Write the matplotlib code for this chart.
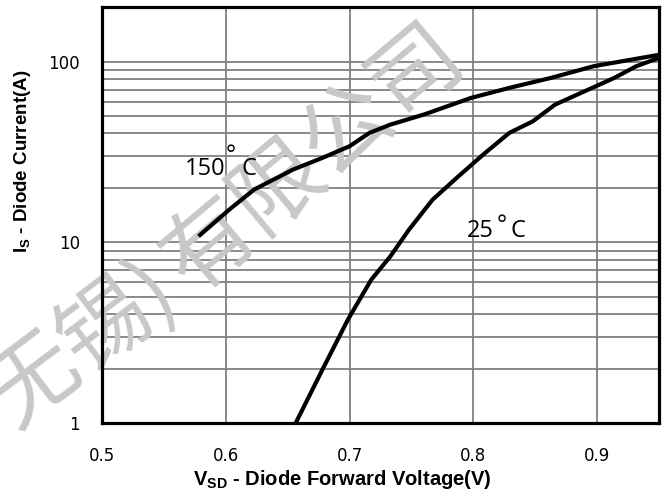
import matplotlib
matplotlib.use("Agg")
import matplotlib.pyplot as plt
from matplotlib.ticker import FixedLocator, NullFormatter, FixedFormatter

plt.rcParams['mathtext.fontset'] = 'custom'
plt.rcParams['mathtext.bf'] = 'Liberation Sans:bold'
plt.rcParams['mathtext.rm'] = 'Liberation Sans'

# Source-drain diode forward characteristics
v_150 = [0.578, 0.603, 0.623, 0.654, 0.678, 0.700, 0.716, 0.733, 0.760,
         0.798, 0.829, 0.863, 0.897, 0.950]
i_150 = [10.8, 15.2, 19.6, 25.2, 29.3, 34.0, 40.3, 44.8, 50.9,
         62.9, 71.5, 81.3, 94.2, 109.0]

v_25 = [0.6565, 0.678, 0.6986, 0.7175, 0.733, 0.748, 0.767, 0.788, 0.808,
        0.829, 0.848, 0.866, 0.884, 0.914, 0.9315, 0.950]
i_25 = [1.0, 1.97, 3.73, 6.21, 8.37, 11.75, 17.2, 23.2, 30.6,
        40.3, 46.7, 57.8, 65.7, 81.3, 94.2, 104.8]

x_ticks = [0.5, 0.6, 0.7, 0.8, 0.9]
x_tick_labels = ["0.5", "0.6", "0.7", "0.8", "0.9"]
y_ticks = [1, 10, 100]
y_tick_labels = ["1", "10", "100"]

fig = plt.figure(figsize=(6.64, 5.01), dpi=100)
ax = fig.add_axes([0.1536, 0.1557, 0.839, 0.830])

ax.set_yscale('log')
ax.set_xlim(0.5, 0.95)
ax.set_ylim(1, 200)

ax.xaxis.set_major_locator(FixedLocator(x_ticks))
ax.xaxis.set_major_formatter(FixedFormatter(x_tick_labels))
ax.yaxis.set_major_locator(FixedLocator(y_ticks))
ax.yaxis.set_major_formatter(FixedFormatter(y_tick_labels))
minor = [m * d for d in (1, 10) for m in range(2, 10)]
ax.yaxis.set_minor_locator(FixedLocator(minor))
ax.yaxis.set_minor_formatter(NullFormatter())

ax.grid(True, which='major', axis='both', color='#808080', lw=1.3)
ax.grid(True, which='minor', axis='y', color='#808080', lw=1.3)
ax.set_axisbelow(True)
ax.tick_params(which='both', length=0, labelsize=12)
ax.tick_params(axis='x', pad=17)
ax.tick_params(axis='y', pad=16)
for s in ax.spines.values():
    s.set_linewidth(2.3)
    s.set_color('black')
    s.set_zorder(4)

# Watermark, drawn above the grid but beneath the curves
wm_kw = dict(fontsize=65, color='#c8c8c8', va='center',
             rotation_mode='anchor', transform=fig.transFigure,
             clip_on=False, zorder=1.5,
             family=['Noto Sans CJK SC', 'DejaVu Sans'])
ax.text(0.474, 0.681, "有限公司", rotation=40, ha='center', **wm_kw)
ax.text(0.252, 0.437, "无锡)", rotation=37, ha='right', **wm_kw)

ax.plot(v_150, i_150, color='black', lw=3.0, zorder=3, solid_capstyle='butt')
ax.plot(v_25, i_25, color='black', lw=3.0, zorder=3, solid_capstyle='butt')

lab_font = ['Liberation Sans Narrow', 'Open Sans', 'DejaVu Sans']
lab_size = 17

ax.text(0.567, 23.7, "150", fontsize=lab_size, family=lab_font,
        ha='left', va='baseline', zorder=5)
ax.text(0.6000, 27.9, "°", fontsize=lab_size, family=lab_font,
        ha='left', va='baseline', zorder=5)
ax.text(0.6124, 23.7, "C", fontsize=lab_size, family=lab_font,
        ha='left', va='baseline', zorder=5)

ax.text(0.795, 10.73, "25", fontsize=lab_size, family=lab_font,
        ha='left', va='baseline', zorder=5)
ax.text(0.8185, 11.43, "°", fontsize=lab_size, family=lab_font,
        ha='left', va='baseline', zorder=5)
ax.text(0.830, 10.73, "C", fontsize=lab_size, family=lab_font,
        ha='left', va='baseline', zorder=5)

ax.set_xlabel(r"$\mathbf{V_{SD}}$ - Diode Forward Voltage(V)",
              fontsize=14.5, fontweight='bold', family='Liberation Sans')
ax.xaxis.set_label_coords(0.431, -0.108)
ax.set_ylabel(r"$\mathbf{I_{S}}$ - Diode Current(A)",
              fontsize=13.5, fontweight='bold',
              family=['Liberation Sans Narrow', 'Liberation Sans'])
ax.yaxis.set_label_coords(-0.124, 0.629)

fig.savefig("out.png", dpi=100)
